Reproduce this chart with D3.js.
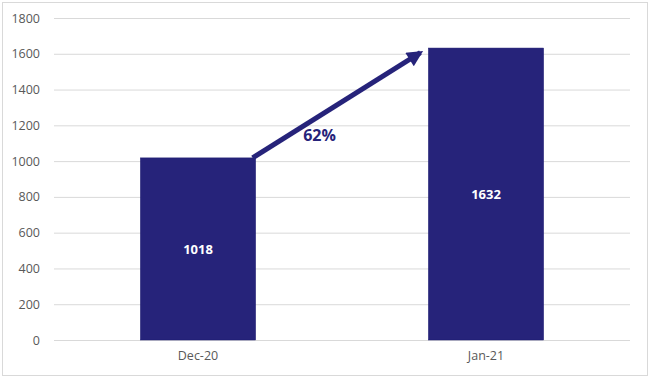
<!DOCTYPE html>
<html>
<head>
<meta charset="utf-8">
<script src="https://cdn.jsdelivr.net/npm/d3@7"></script>
<style>
	body { margin: 0; background: #fff; }
	svg, svg text { font-family: "Open Sans", "Noto Sans", sans-serif; }
</style>
</head>
<body>
<div class="plot-container"></div>
<script>
const months = ["Dec-20", "Jan-21"];
const counts = [1018, 1632];
const yTicks = [0, 200, 400, 600, 800, 1000, 1200, 1400, 1600, 1800];
const growthLabel = "62%";

const width = 650, height = 378;
const margin = {top: 18, right: 20, bottom: 38, left: 54};
const barColor = "#26237a";

const svg = d3.select(".plot-container").append("svg")
	.attr("width", width)
	.attr("height", height);

// outer frame
svg.append("rect")
	.attr("x", 2.5).attr("y", 2.5)
	.attr("width", width - 5).attr("height", height - 5)
	.attr("fill", "#fff")
	.attr("stroke", "#d9d9d9");

const x = d3.scaleBand()
	.domain(months)
	.range([margin.left, width - margin.right])
	.paddingInner(0.6)
	.paddingOuter(0.3);

const y = d3.scaleLinear()
	.domain([0, 1800])
	.range([height - margin.bottom, margin.top]);

// gridlines + y labels
const yAxis = d3.axisLeft(y)
	.tickValues(yTicks)
	.tickFormat(d3.format("d"))
	.tickSize(-(width - margin.left - margin.right))
	.tickPadding(14);

svg.append("g")
	.attr("transform", `translate(${margin.left},0)`)
	.call(yAxis)
	.call(g => {
		g.attr("font-family", null);
		g.select(".domain").remove();
		g.selectAll("line").attr("stroke", "#d9d9d9").attr("stroke-width", 1);
		g.selectAll("text").attr("fill", "#595959").style("font-size", "12.5px");
	});

const xAxis = d3.axisBottom(x).tickSize(0).tickPadding(11);
svg.append("g")
	.attr("transform", `translate(0,${y(0)})`)
	.call(xAxis)
	.call(g => {
		g.attr("font-family", null);
		g.select(".domain").remove();
		g.selectAll("text").attr("fill", "#595959").style("font-size", "12.5px");
	});

const data = months.map((m, i) => ({month: m, count: counts[i]}));

svg.append("g").selectAll("rect")
	.data(data)
	.join("rect")
	.attr("x", d => x(d.month))
	.attr("y", d => y(d.count))
	.attr("width", x.bandwidth())
	.attr("height", d => y(0) - y(d.count))
	.attr("fill", barColor)
	.attr("stroke", "#1a1870")
	.attr("stroke-width", 0.5);

svg.append("g").selectAll("text")
	.data(data)
	.join("text")
	.attr("x", d => x(d.month) + x.bandwidth() / 2)
	.attr("y", d => (y(d.count) + y(0)) / 2 + 5)
	.attr("text-anchor", "middle")
	.attr("fill", "#fff")
	.style("font-size", "13px")
	.style("font-weight", "bold")
	.text(d => d.count);

// growth arrow
svg.append("defs").append("marker")
	.attr("id", "arrowhead")
	.attr("viewBox", "0 0 10 10")
	.attr("refX", 8).attr("refY", 5)
	.attr("markerWidth", 4).attr("markerHeight", 3.2)
	.attr("orient", "auto")
	.attr("markerUnits", "strokeWidth")
	.append("path")
	.attr("d", "M0,0 L10,5 L0,10 z")
	.attr("fill", barColor);

const x0 = x(months[0]) + x.bandwidth() - 3, y0 = y(counts[0]);
const x1 = x(months[1]) - 2, y1 = y(counts[1]) + 1;

svg.append("line")
	.attr("x1", x0).attr("y1", y0)
	.attr("x2", x1 - 6).attr("y2", y1 + 3.6)
	.attr("stroke", barColor)
	.attr("stroke-width", 5)
	.attr("marker-end", "url(#arrowhead)");

svg.append("text")
	.attr("x", (x0 + x1) / 2 - 20)
	.attr("y", (y0 + y1) / 2 + 38)
	.attr("text-anchor", "middle")
	.attr("fill", barColor)
	.style("font-size", "16px")
	.style("font-weight", "bold")
	.text(growthLabel);
</script>
</body>
</html>
